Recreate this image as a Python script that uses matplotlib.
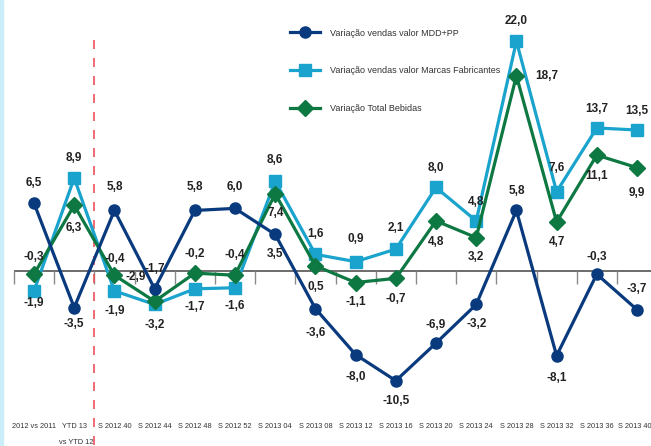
import matplotlib
matplotlib.use("Agg")
import matplotlib.pyplot as plt
from matplotlib import font_manager as fm
from matplotlib.patches import Rectangle
import numpy as np

categories = ["2012 vs 2011", "YTD 13", "S 2012 40", "S 2012 44", "S 2012 48",
              "S 2012 52", "S 2013 04", "S 2013 08", "S 2013 12", "S 2013 16",
              "S 2013 20", "S 2013 24", "S 2013 28", "S 2013 32", "S 2013 36", "S 2013 40"]
sub_label = "vs YTD 12"
mdd_pp = [6.5, -3.5, 5.8, -1.7, 5.8, 6.0, 3.5, -3.6, -8.0, -10.5, -6.9, -3.2, 5.8, -8.1, -0.3, -3.7]
marcas = [-1.9, 8.9, -1.9, -3.2, -1.7, -1.6, 8.6, 1.6, 0.9, 2.1, 8.0, 4.8, 22.0, 7.6, 13.7, 13.5]
total = [-0.3, 6.3, -0.4, -2.9, -0.2, -0.4, 7.4, 0.5, -1.1, -0.7, 4.8, 3.2, 18.7, 4.7, 11.1, 9.9]
series_names = ["Variação vendas valor MDD+PP",
                "Variação vendas valor Marcas Fabricantes",
                "Variação Total Bebidas"]

# label offsets in pixels (dx, dy; dy positive = downwards)
mdd_off = [(0, -20), (0, 16), (0, -23), (0, -20), (0, -23), (0, -21), (0, 20), (0, 24),
           (0, 22), (0, 20), (0, -18), (0, 20), (0, -19), (0, 22), (0, -17), (0, -21)]
marcas_off = [(0, 12), (0, -20), (0, 20), (0, 21), (0, 18), (0, 18), (0, -21), (0, -20),
              (0, -23), (0, -21), (0, -19), (0, -19), (0, -20), (0, -24), (0, -19), (0, -19)]
total_off = [(0, -17), (0, 23), (0, -16), (-19, -24), (0, -19), (0, -20), (0, 19), (0, 21),
             (0, 19), (0, 21), (0, 21), (0, 19), (19, 0), (0, 20), (0, 21), (0, 25)]
cat_dx = [0] * 15 + [-2]

C_DARK = "#0A3A7E"
C_LIGHT = "#1AA3CC"
C_GREEN = "#0E7843"


def fp(bold=False, size=8):
    return fm.FontProperties(family=["Liberation Sans", "DejaVu Sans"],
                             weight="bold" if bold else "normal", size=size)


W, H, DPI = 651, 446, 100
fig = plt.figure(figsize=(W / DPI, H / DPI), dpi=DPI)
ax = fig.add_axes([0, 0, 1, 1])
n = len(categories)
x = np.arange(n)
ax.set_xlim(-0.846, 15.348)
ax.set_ylim(-16.75, 25.95)
ax.axis("off")

px = 0.72  # pixel -> points

# zero axis with ticks at category boundaries
ax.hlines(0, -0.5, n, color="#6b6b6b", lw=1.4, zorder=1)
ax.vlines(np.arange(n + 1) - 0.5, -1.25, 0, color="#8a8a8a", lw=1.0, zorder=1)

# red dashed separator
ax.plot([1.5, 1.5], [22.1, -17], color="#F0505A", lw=1.2,
        linestyle=(0, (5.4, 5.4)), zorder=1)

# series
l2, = ax.plot(x, marcas, color=C_LIGHT, lw=2.3, marker="s", ms=8.5, zorder=3,
              label=series_names[1])
l3, = ax.plot(x, total, color=C_GREEN, lw=2.3, marker="D", ms=8, zorder=4,
              label=series_names[2])
l1, = ax.plot(x, mdd_pp, color=C_DARK, lw=2.3, marker="o", ms=8, zorder=5,
              label=series_names[0])


def fmt(v):
    return f"{v:.1f}".replace(".", ",")


lab_fp = fp(True, 8.5)
for vals, offs in ((mdd_pp, mdd_off), (marcas, marcas_off), (total, total_off)):
    for i, (v, (dx, dy)) in enumerate(zip(vals, offs)):
        ax.annotate(fmt(v), (i, v), xytext=(dx * px, -dy * px), textcoords="offset points",
                    ha="center" if dx <= 5 else "left", va="center",
                    fontproperties=lab_fp, color="#222222", zorder=6)

# category labels
cat_fp = fp(False, 5.3)
for i, c in enumerate(categories):
    ax.annotate(c, (i, -14.85), xytext=(cat_dx[i] * px, 0), textcoords="offset points",
                ha="center", va="center", fontproperties=cat_fp, color="#333333")
ax.text(1.05, -16.4, sub_label, ha="center", va="center", fontproperties=cat_fp,
        color="#333333")

# legend
leg = ax.legend(handles=[l1, l2, l3], loc="upper left",
                bbox_to_anchor=(290 / W, 1 - 28.5 / H),
                frameon=False, handlelength=3.35, handletextpad=1.05,
                labelspacing=3.2, borderaxespad=0, borderpad=0,
                prop=fp(False, 6.5))
leg.set_zorder(10)
for t in leg.get_texts():
    t.set_color("#333333")

# light blue left strip
fig.patches.append(Rectangle((0, 0), 2.5 / W, 1, transform=fig.transFigure,
                             color="#C9EEF9", zorder=0))

fig.savefig("out.png", dpi=DPI)
